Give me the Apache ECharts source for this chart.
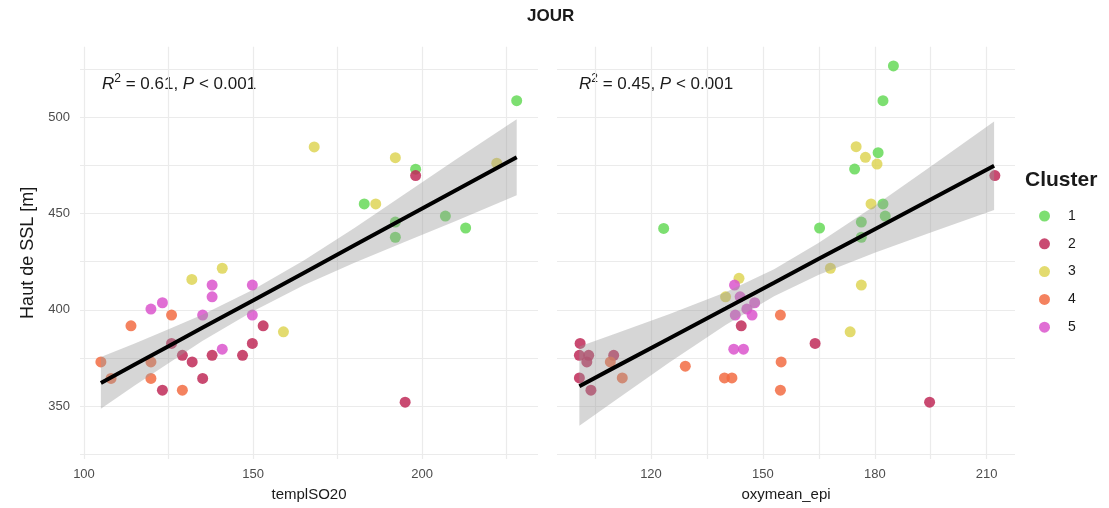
<!DOCTYPE html>
<html><head><meta charset="utf-8">
<script src="https://cdn.jsdelivr.net/npm/echarts@6/dist/echarts.min.js"></script>
<style>html,body{margin:0;padding:0;background:#fff}#c{width:1109px;height:508px}</style>
</head><body><div id="c"></div>
<script>
// ---- data ----
const clusters = ['1', '2', '3', '4', '5'];
const clusterColors = ['#66d958', '#c02a58', '#ded556', '#f26c43', '#da55cc'];

// left panel: [templSO20, Haut de SSL]
const leftC1 = [[228.0,508.6],[198.1,473.0],[182.9,455.0],[206.9,448.7],[212.9,442.5],[192.1,445.6],[192.1,437.7]];
const leftC2 = [[198.1,469.7],[195.0,352.1],[153.0,391.7],[125.9,382.6],[149.8,382.6],[129.1,376.4],[137.9,376.4],[146.9,376.4],[132.0,373.0],[135.1,364.4],[123.2,358.3]];
const leftC3 = [[168.1,484.6],[192.1,479.0],[222.1,476.1],[186.3,455.0],[140.9,421.6],[131.9,415.8],[159.0,388.6]];
const leftC4 = [[125.9,397.3],[113.9,391.7],[105.0,373.0],[119.8,373.0],[108.0,364.4],[119.8,364.4],[129.1,358.3]];
const leftC5 = [[137.9,412.9],[149.8,412.9],[137.9,406.8],[123.2,403.7],[119.8,400.4],[135.1,397.3],[149.8,397.3],[140.9,379.6]];

// right panel: [oxymean_epi, Haut de SSL]
const rightC1 = [[185.0,526.6],[182.2,508.6],[180.9,481.6],[174.6,473.1],[182.2,455.0],[182.8,448.7],[165.2,442.5],[123.4,442.3],[176.4,445.6],[176.4,437.7]];
const rightC2 = [[212.2,469.7],[164.0,382.6],[194.7,352.1],[144.2,391.7],[101.0,382.6],[100.8,376.4],[103.3,376.4],[110.0,376.4],[102.8,373.0],[100.8,364.7],[103.9,358.3]];
const rightC3 = [[175.0,484.7],[177.5,479.2],[180.6,475.7],[179.0,455.0],[168.1,421.6],[176.4,412.9],[173.4,388.6],[143.6,416.4],[140.0,406.8]];
const rightC4 = [[154.7,397.3],[154.9,373.0],[154.7,358.3],[109.1,373.0],[129.2,370.8],[112.3,364.7],[139.7,364.7],[141.7,364.7]];
const rightC5 = [[142.4,412.9],[143.9,406.8],[147.8,403.7],[145.7,400.4],[142.6,397.3],[147.1,397.3],[142.2,379.6],[144.8,379.6]];

// regression fit and confidence band
const leftFitX   = [105, 115, 125, 135, 150, 165, 180, 195, 210, 228];
const leftFit    = [362.1, 371.6, 381.1, 390.7, 404.9, 419.2, 433.5, 447.8, 462.1, 479.2];
const leftLower  = [348.7, 360.7, 372.3, 383.9, 399.3, 412.8, 424.5, 435.3, 446.1, 459.5];
const leftUpper  = [375.5, 382.5, 389.9, 397.5, 410.5, 425.6, 442.5, 460.3, 478.1, 498.9];

const rightFitX  = [100.8, 110, 125, 140, 153, 165, 180, 195, 212];
const rightFit   = [360.4, 369.9, 385.3, 400.7, 414.1, 426.5, 441.9, 457.3, 474.8];
const rightLower = [339.8, 352.5, 372.8, 392.2, 407.1, 418.2, 429.7, 440.2, 451.8];
const rightUpper = [381.0, 387.3, 397.8, 409.2, 421.1, 434.8, 454.1, 474.4, 497.8];

// axis ticks
const leftXTicks = [100, 125, 150, 175, 200, 225];
const leftXLabels = [100, 150, 200];
const rightXTicks = [105, 120, 135, 150, 165, 180, 195, 210];
const rightXLabels = [120, 150, 180, 210];
const yTicks = [325, 350, 375, 400, 425, 450, 475, 500, 525];
const yLabels = [350, 400, 450, 500];

const statsLeft = '0.61';
const statsRight = '0.45';

// ---- chart ----
const FONT = '"Liberation Sans", Arial, sans-serif';
const chart = echarts.init(document.getElementById('c'), null, {renderer: 'canvas'});

function xAxisCfg(gi, min, max, ticks, labels, name) {
  return {
    type: 'value', gridIndex: gi, min: min, max: max, name: name,
    nameLocation: 'middle', nameGap: 28,
    nameTextStyle: {fontSize: 15, color: '#1a1a1a', fontFamily: FONT},
    axisLine: {show: false},
    axisTick: {show: false, customValues: ticks},
    axisLabel: {customValues: labels, color: '#4d4d4d', fontSize: 13, margin: 9, fontFamily: FONT},
    splitLine: {show: true, lineStyle: {color: '#ebebeb', width: 1.2}}
  };
}
function yAxisCfg(gi, showLabels) {
  return {
    type: 'value', gridIndex: gi, min: 322.6, max: 536.6,
    name: showLabels ? 'Haut de SSL [m]' : '',
    nameLocation: 'middle', nameGap: 43,
    nameTextStyle: {fontSize: 18, color: '#1a1a1a', fontFamily: FONT},
    axisLine: {show: false},
    axisTick: {show: false, customValues: yTicks},
    axisLabel: {show: showLabels, customValues: yLabels, color: '#4d4d4d', fontSize: 13, margin: 10, fontFamily: FONT},
    splitLine: {show: true, lineStyle: {color: '#ebebeb', width: 1.2}}
  };
}

function scatter(name, data, ci, gi) {
  return {
    type: 'scatter', name: name, xAxisIndex: gi, yAxisIndex: gi, data: data,
    symbolSize: 11, z: 2,
    itemStyle: {color: clusterColors[ci], opacity: 0.85},
    emphasis: {disabled: true}, silent: true
  };
}
function band(xs, lo, hi, gi) {
  const data = xs.map((x, i) => [x, lo[i], hi[i]]);
  return {
    type: 'custom', xAxisIndex: gi, yAxisIndex: gi, z: 3, silent: true,
    data: data, encode: {x: 0, y: [1, 2]},
    renderItem: function (params, api) {
      if (params.dataIndex !== 0) return null;
      const pts = [];
      for (let i = 0; i < data.length; i++) pts.push(api.coord([data[i][0], data[i][2]]));
      for (let i = data.length - 1; i >= 0; i--) pts.push(api.coord([data[i][0], data[i][1]]));
      return {type: 'polygon', shape: {points: pts}, style: {fill: 'rgba(153,153,153,0.4)'}};
    }
  };
}
function fitLine(xs, ys, gi) {
  return {
    type: 'line', xAxisIndex: gi, yAxisIndex: gi, z: 4, silent: true,
    data: xs.map((x, i) => [x, ys[i]]), symbol: 'none',
    lineStyle: {color: '#000', width: 4}
  };
}

const leftSets = [leftC1, leftC2, leftC3, leftC4, leftC5];
const rightSets = [rightC1, rightC2, rightC3, rightC4, rightC5];
const series = [];
leftSets.forEach((d, i) => series.push(scatter(clusters[i], d, i, 0)));
rightSets.forEach((d, i) => series.push(scatter(clusters[i], d, i, 1)));
series.push(band(leftFitX, leftLower, leftUpper, 0));
series.push(band(rightFitX, rightLower, rightUpper, 1));
series.push(fitLine(leftFitX, leftFit, 0));
series.push(fitLine(rightFitX, rightFit, 1));

function statText(x, r2) {
  return {
    type: 'text', left: x, top: 73, silent: true,
    style: {
      text: '{i|R}{s|2}{n| = ' + r2 + ', }{i|P}{n| < 0.001}',
      rich: {
        i: {fontStyle: 'italic', fontSize: 17, fontFamily: FONT, fill: '#1a1a1a', verticalAlign: 'bottom', lineHeight: 20},
        n: {fontSize: 17, fontFamily: FONT, fill: '#1a1a1a', verticalAlign: 'bottom', lineHeight: 20},
        s: {fontSize: 12, fontFamily: FONT, fill: '#1a1a1a', verticalAlign: 'top', lineHeight: 20}
      }
    }
  };
}

chart.setOption({
  animation: false,
  backgroundColor: '#fff',
  grid: [
    {left: 80, top: 46.7, width: 458, height: 412.3},
    {left: 557, top: 46.7, width: 458, height: 412.3}
  ],
  xAxis: [
    xAxisCfg(0, 98.82, 234.3, leftXTicks, leftXLabels, 'templSO20'),
    xAxisCfg(1, 94.8, 217.6, rightXTicks, rightXLabels, 'oxymean_epi')
  ],
  yAxis: [yAxisCfg(0, true), yAxisCfg(1, false)],
  legend: {
    data: clusters, orient: 'vertical', left: 1034, top: 203,
    itemWidth: 25, itemHeight: 11, itemGap: 11.8, icon: 'circle',
    textStyle: {fontSize: 14, color: '#1a1a1a', fontFamily: FONT, lineHeight: 16, padding: [0, 0, 0, 6]},
    selectedMode: false
  },
  graphic: [
    {type: 'text', left: 527, top: 8, silent: true,
      style: {text: 'JOUR', fontSize: 17, fontWeight: 'bold', fontFamily: FONT, fill: '#1a1a1a'}},
    {type: 'text', left: 1025, top: 170, silent: true,
      style: {text: 'Cluster', fontSize: 21, fontWeight: 'bold', fontFamily: FONT, fill: '#1a1a1a'}},
    statText(102, statsLeft),
    statText(579, statsRight)
  ],
  series: series
});
</script>
</body></html>
